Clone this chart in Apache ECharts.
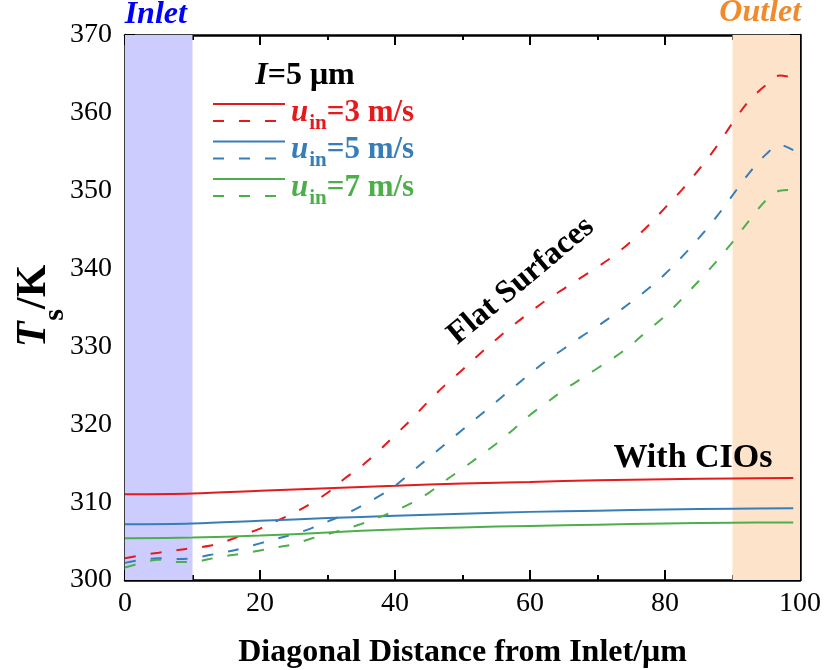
<!DOCTYPE html>
<html>
<head>
<meta charset="utf-8">
<script src="https://cdn.jsdelivr.net/npm/echarts@6/dist/echarts.min.js"></script>
<style>
  html, body { margin: 0; padding: 0; background: #fff; }
  #chart { width: 824px; height: 670px; }
</style>
</head>
<body>
<div id="chart"></div>
<script>
// Surface temperature along the diagonal, I = 5 µm
const xDashed = [0, 2.5, 5, 7.5, 10, 12.5, 15, 17.5, 20, 22.5, 25, 27.5, 30, 32.5, 35, 37.5, 40, 42.5, 45, 47.5,
  50, 52.5, 55, 57.5, 60, 62.5, 65, 67.5, 70, 72.5, 75, 77.5, 80, 82.5, 85, 87.5, 90, 92.5, 95, 97, 99];
const xSolid = [0, 10, 20, 30, 40, 50, 60, 70, 80, 90, 99];

// Flat surfaces (dashed)
const flat3 = [302.8, 303.2, 303.5, 303.8, 304.1, 304.4, 305.0, 305.8, 306.6, 307.6, 308.6, 309.8, 311.2, 313.0, 314.6,
  316.5, 318.6, 320.7, 323.0, 325.1, 327.0, 329.0, 330.9, 332.7, 334.4, 336.0, 337.4, 338.8, 340.2, 341.7, 343.5,
  345.5, 347.8, 350.1, 352.7, 355.5, 358.7, 361.6, 363.6, 364.8, 364.5];
const flat5 = [302.2, 302.6, 302.8, 302.7, 302.8, 303.2, 303.6, 304.1, 304.7, 305.3, 305.9, 306.6, 307.5, 308.4, 309.5,
  310.7, 312.1, 313.9, 315.7, 317.5, 319.3, 321.1, 322.9, 324.7, 326.5, 328.2, 329.7, 331.2, 332.6, 334.1, 335.7,
  337.4, 339.3, 341.5, 343.9, 346.5, 349.4, 352.3, 354.7, 355.9, 355.2];
const flat7 = [301.6, 302.2, 302.6, 302.3, 302.3, 302.7, 303.1, 303.4, 303.8, 304.2, 304.6, 305.3, 305.9, 306.5, 307.2,
  308.0, 308.9, 309.9, 311.2, 312.8, 314.3, 315.9, 317.5, 319.3, 321.2, 322.8, 324.4, 325.8, 327.2, 328.6, 330.2,
  332.1, 333.9, 336.1, 338.4, 340.8, 343.4, 346.2, 348.8, 350.0, 350.1];

// With CIOs (solid)
const cio3 = [311.0, 311.1, 311.45, 311.8, 312.1, 312.4, 312.6, 312.8, 312.95, 313.05, 313.1];
const cio5 = [307.15, 307.25, 307.6, 307.95, 308.25, 308.5, 308.75, 308.9, 309.05, 309.15, 309.2];
const cio7 = [305.35, 305.45, 305.7, 306.1, 306.5, 306.75, 306.95, 307.1, 307.25, 307.35, 307.4];

const speeds = ['3', '5', '7'];
const inletRange = [0, 10];
const outletRange = [90, 100];

const COLORS = ['#e41a1c', '#377eb8', '#4daf4a'];
const FONT = 'Liberation Serif';
const DASH = [11, 15];

const pairs = (xs, ys) => xs.map((x, i) => [x, ys[i]]);

const chart = echarts.init(document.getElementById('chart'), null, { renderer: 'canvas' });

function lineSeries(name, xs, ys, color, dashed) {
  return {
    name: name,
    type: 'line',
    data: pairs(xs, ys),
    smooth: 0.35,
    showSymbol: false,
    z: 3,
    lineStyle: { color: color, width: 2, type: dashed ? DASH : 'solid' },
    emphasis: { disabled: true }
  };
}

const axisCommon = {
  axisLine: { show: true, onZero: false, lineStyle: { color: '#000', width: 2.5 } },
  axisTick: { show: true, inside: true, length: 10, lineStyle: { color: '#000', width: 2 } },
  minorTick: { show: true, splitNumber: 2, length: 5, lineStyle: { color: '#000', width: 2 } },
  splitLine: { show: false },
  minorSplitLine: { show: false }
};

// Legend block (line samples + rich labels)
const legendGraphics = [];
legendGraphics.push({
  type: 'text', x: 305, y: 76, z: 10,
  style: {
    text: '{i|I}{t|=5 μm}', align: 'center', verticalAlign: 'middle',
    rich: {
      i: { fontFamily: FONT, fontSize: 32, fontWeight: 'bold', fontStyle: 'italic', fill: '#000' },
      t: { fontFamily: FONT, fontSize: 32, fontWeight: 'bold', fill: '#000' }
    }
  }
});
speeds.forEach((s, k) => {
  const yTop = 104 + k * 37.5;
  const c = COLORS[k];
  legendGraphics.push({
    type: 'line', z: 10,
    shape: { x1: 213, y1: yTop, x2: 285, y2: yTop },
    style: { stroke: c, lineWidth: 2 }
  });
  legendGraphics.push({
    type: 'line', z: 10,
    shape: { x1: 213, y1: yTop + 17, x2: 285, y2: yTop + 17 },
    style: { stroke: c, lineWidth: 2, lineDash: DASH }
  });
  legendGraphics.push({
    type: 'text', x: 291, y: yTop - 7, z: 10,
    style: {
      text: '{u|u}{sub|in}{t|=' + s + ' m/s}', align: 'left', verticalAlign: 'top',
      rich: {
        u: { fontFamily: FONT, fontSize: 31, fontWeight: 'bold', fontStyle: 'italic', fill: c, lineHeight: 33, verticalAlign: 'top' },
        sub: { fontFamily: FONT, fontSize: 21, fontWeight: 'bold', fill: c, lineHeight: 21, verticalAlign: 'top', padding: [16, 0, 0, 1] },
        t: { fontFamily: FONT, fontSize: 31, fontWeight: 'bold', fill: c, lineHeight: 33, verticalAlign: 'top' }
      }
    }
  });
});

// Y axis title T_s/K, drawn vertically
const yTitle = {
  type: 'text', x: 36, y: 306, rotation: Math.PI / 2, z: 10,
  style: {
    text: '{T|T}{s|s}{K|/K}', align: 'center', verticalAlign: 'middle',
    rich: {
      T: { fontFamily: FONT, fontSize: 42, fontWeight: 'bold', fontStyle: 'italic', fill: '#000', lineHeight: 46, verticalAlign: 'top' },
      s: { fontFamily: FONT, fontSize: 30, fontWeight: 'bold', fill: '#000', lineHeight: 30, verticalAlign: 'top', padding: [27, 0, 0, 1] },
      K: { fontFamily: FONT, fontSize: 42, fontWeight: 'bold', fill: '#000', lineHeight: 46, verticalAlign: 'top' }
    }
  }
};

const option = {
  backgroundColor: '#fff',
  animation: false,
  textStyle: { fontFamily: FONT },
  grid: { left: 125, right: 24, top: 35, bottom: 90, containLabel: false, outerBoundsMode: 'none' },
  xAxis: [
    Object.assign({}, axisCommon, {
      type: 'value', position: 'bottom', min: 0, max: 100, interval: 20,
      axisLabel: { color: '#000', fontFamily: FONT, fontSize: 28, margin: 10 },
      name: 'Diagonal Distance from Inlet/μm', nameLocation: 'middle', nameGap: 57,
      nameTextStyle: { color: '#000', fontFamily: FONT, fontSize: 32, fontWeight: 'bold' }
    }),
    Object.assign({}, axisCommon, {
      type: 'value', position: 'top', min: 0, max: 100, interval: 20,
      axisLabel: { show: false }
    })
  ],
  yAxis: [
    Object.assign({}, axisCommon, {
      type: 'value', position: 'left', min: 300, max: 370, interval: 10,
      axisLabel: { color: '#000', fontFamily: FONT, fontSize: 28, margin: 13 }
    }),
    Object.assign({}, axisCommon, {
      type: 'value', position: 'right', min: 300, max: 370, interval: 10,
      axisLabel: { show: false }
    })
  ],
  graphic: legendGraphics.concat([
    yTitle,
    {
      type: 'text', x: 521, y: 281, rotation: 40 * Math.PI / 180, z: 10,
      style: { text: 'Flat Surfaces', align: 'center', verticalAlign: 'middle',
        fontFamily: FONT, fontSize: 32, fontWeight: 'bold', fill: '#000' }
    },
    {
      type: 'text', x: 693, y: 458, z: 10,
      style: { text: 'With CIOs', align: 'center', verticalAlign: 'middle',
        fontFamily: FONT, fontSize: 34, fontWeight: 'bold', fill: '#000' }
    }
  ]),
  series: [
    {
      name: 'regions', type: 'line', data: [], z: 1, silent: true,
      markArea: {
        silent: true,
        data: [
          [{
            xAxis: inletRange[0], itemStyle: { color: '#ccccff' },
            label: { show: true, position: 'top', distance: 4, offset: [-3, 0], formatter: 'Inlet', color: '#0000ff',
              fontFamily: FONT, fontSize: 32, fontWeight: 'bold', fontStyle: 'italic' }
          }, { xAxis: inletRange[1] }],
          [{
            xAxis: outletRange[0], itemStyle: { color: '#fde3ca' },
            label: { show: true, position: 'top', distance: 6, offset: [-6, 0], formatter: 'Outlet', color: '#f08a2a',
              fontFamily: FONT, fontSize: 32, fontWeight: 'bold', fontStyle: 'italic' }
          }, { xAxis: outletRange[1] }]
        ]
      }
    },
    lineSeries('cio3', xSolid, cio3, COLORS[0], false),
    lineSeries('flat3', xDashed, flat3, COLORS[0], true),
    lineSeries('cio5', xSolid, cio5, COLORS[1], false),
    lineSeries('flat5', xDashed, flat5, COLORS[1], true),
    lineSeries('cio7', xSolid, cio7, COLORS[2], false),
    lineSeries('flat7', xDashed, flat7, COLORS[2], true)
  ]
};

chart.setOption(option);
</script>
</body>
</html>
